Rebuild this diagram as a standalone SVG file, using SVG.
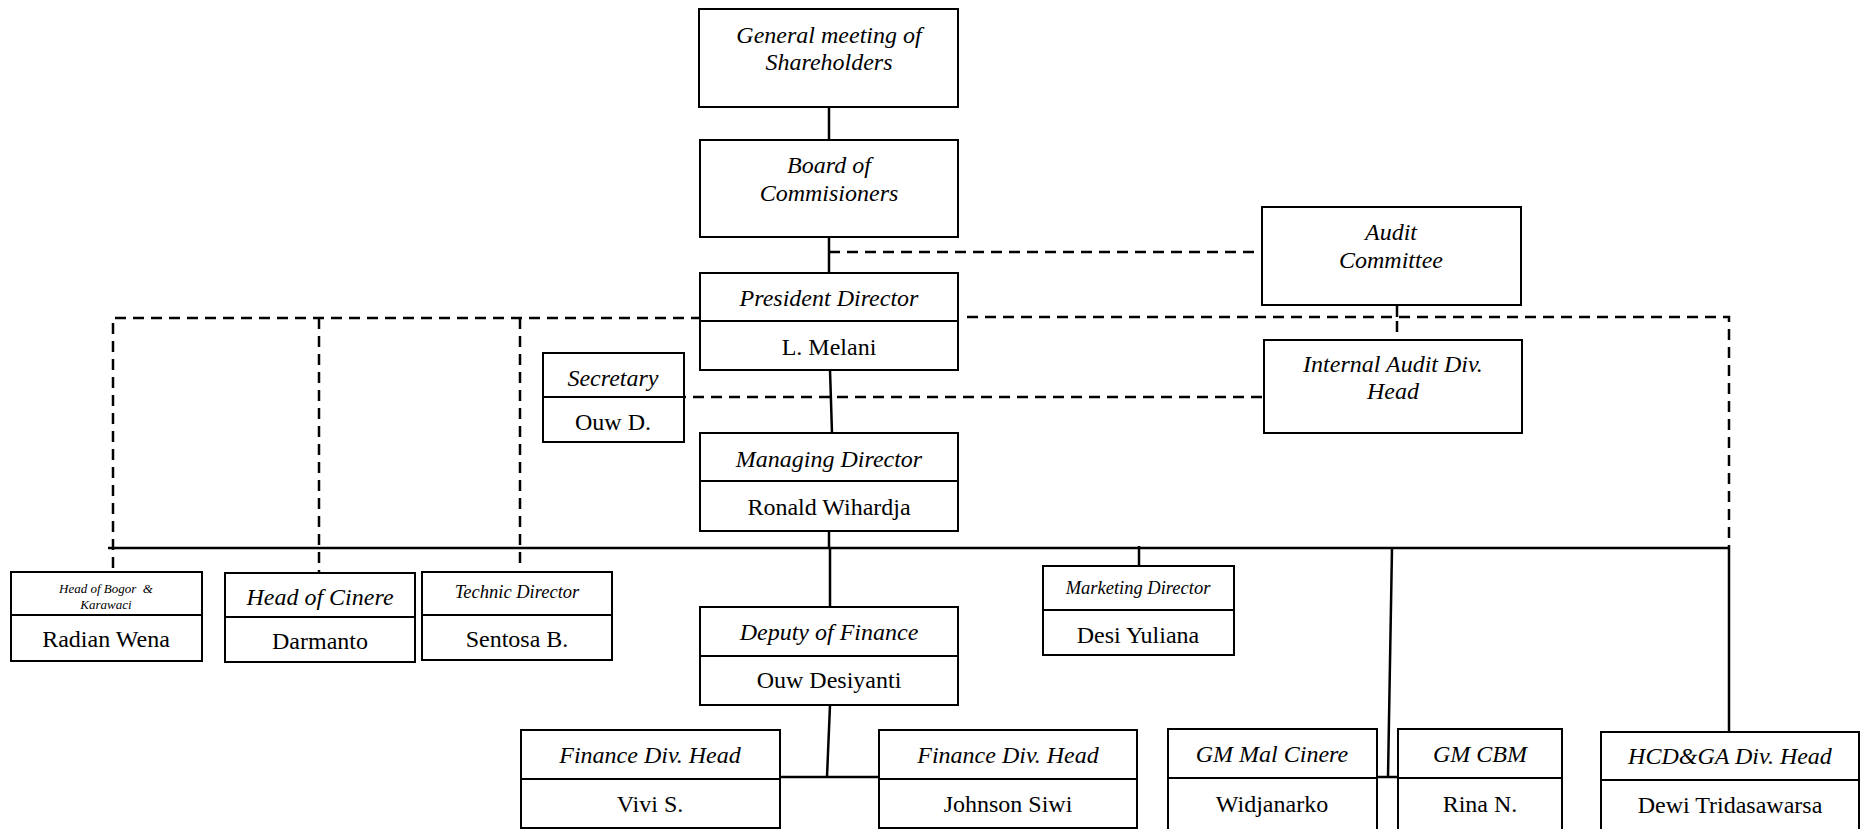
<svg xmlns="http://www.w3.org/2000/svg" width="1865" height="829" viewBox="0 0 1865 829">
<style>
  .box { fill: #fff; stroke: #000; stroke-width: 2; }
  .div { stroke: #000; stroke-width: 2; }
  .t { font-family: "Liberation Serif", "Times New Roman", serif; font-size: 24px; fill: #000; text-anchor: middle; }
  .i { font-style: italic; }
  .s18 { font-size: 18.5px; }
  .s13 { font-size: 13px; }
  .solid { stroke: #000; stroke-width: 2.5; fill: none; }
  .dash { stroke: #000; stroke-width: 2.5; fill: none; stroke-dasharray: 11 7; }
</style>
<rect width="1865" height="829" fill="#fff"/>

<g id="connectors">
  <line class="solid" x1="829" y1="107" x2="829" y2="140"/>
  <line class="solid" x1="829" y1="237" x2="829" y2="273"/>
  <line class="solid" x1="830" y1="370" x2="832" y2="433"/>
  <line class="solid" x1="829" y1="531" x2="829" y2="548"/>
  <line class="solid" x1="108" y1="548" x2="1729" y2="548" stroke-width="3"/>
  <line class="solid" x1="830" y1="548" x2="830" y2="607"/>
  <line class="solid" x1="830" y1="705" x2="827" y2="777"/>
  <line class="solid" x1="780" y1="777" x2="879" y2="777"/>
  <line class="solid" x1="1139" y1="546" x2="1139" y2="568"/>
  <line class="solid" x1="1392" y1="548" x2="1388" y2="777"/>
  <line class="solid" x1="1372" y1="777" x2="1407" y2="777"/>
  <line class="solid" x1="1729" y1="548" x2="1729" y2="732"/>
  <line class="solid" x1="1397" y1="305" x2="1397" y2="317"/>
  <line class="dash" x1="829" y1="252" x2="1262" y2="252"/>
  <path class="dash" d="M113,568 V318 H700"/>
  <line class="dash" x1="319" y1="318" x2="319" y2="573"/>
  <line class="dash" x1="520" y1="318" x2="520" y2="568"/>
  <path class="dash" d="M967,317 H1729 V548"/>
  <line class="dash" x1="1397" y1="321" x2="1397" y2="340"/>
  <line class="dash" x1="675" y1="397" x2="1267" y2="397"/>
</g>

<g id="gms">
  <rect class="box" x="699" y="9" width="259" height="98"/>
  <text class="t i" x="829" y="43">General meeting of</text>
  <text class="t i" x="829" y="70">Shareholders</text>
</g>
<g id="boc">
  <rect class="box" x="700" y="140" width="258" height="97"/>
  <text class="t i" x="829" y="173">Board of</text>
  <text class="t i" x="829" y="201">Commisioners</text>
</g>
<g id="president">
  <rect class="box" x="700" y="273" width="258" height="97"/>
  <line class="div" x1="700" y1="321" x2="958" y2="321"/>
  <text class="t i" x="829" y="306">President Director</text>
  <text class="t" x="829" y="355">L. Melani</text>
</g>
<g id="audit">
  <rect class="box" x="1262" y="207" width="259" height="98"/>
  <text class="t i" x="1391" y="240">Audit</text>
  <text class="t i" x="1391" y="268">Committee</text>
</g>
<g id="internal-audit">
  <rect class="box" x="1264" y="340" width="258" height="93"/>
  <text class="t i" x="1393" y="372">Internal Audit Div.</text>
  <text class="t i" x="1393" y="399">Head</text>
</g>
<g id="secretary">
  <rect class="box" x="543" y="353" width="141" height="89"/>
  <line class="div" x1="543" y1="397" x2="684" y2="397"/>
  <text class="t i" x="613" y="386">Secretary</text>
  <text class="t" x="613" y="430">Ouw D.</text>
</g>
<g id="managing">
  <rect class="box" x="700" y="433" width="258" height="98"/>
  <line class="div" x1="700" y1="481" x2="958" y2="481"/>
  <text class="t i" x="829" y="467">Managing Director</text>
  <text class="t" x="829" y="515">Ronald Wihardja</text>
</g>
<g id="bogor">
  <rect class="box" x="11" y="572" width="191" height="89"/>
  <line class="div" x1="11" y1="615" x2="202" y2="615"/>
  <text class="t i s13" x="106" y="593" xml:space="preserve">Head of Bogor  &amp;</text>
  <text class="t i s13" x="106" y="609">Karawaci</text>
  <text class="t" x="106" y="647">Radian Wena</text>
</g>
<g id="cinere">
  <rect class="box" x="225" y="573" width="190" height="89"/>
  <line class="div" x1="225" y1="617" x2="415" y2="617"/>
  <text class="t i" x="320" y="605">Head of Cinere</text>
  <text class="t" x="320" y="649">Darmanto</text>
</g>
<g id="technic">
  <rect class="box" x="422" y="572" width="190" height="88"/>
  <line class="div" x1="422" y1="615" x2="612" y2="615"/>
  <text class="t i s18" x="517" y="598">Technic Director</text>
  <text class="t" x="517" y="647">Sentosa B.</text>
</g>
<g id="marketing">
  <rect class="box" x="1043" y="566" width="191" height="89"/>
  <line class="div" x1="1043" y1="610" x2="1234" y2="610"/>
  <text class="t i s18" x="1138" y="594">Marketing Director</text>
  <text class="t" x="1138" y="643">Desi Yuliana</text>
</g>
<g id="deputy">
  <rect class="box" x="700" y="607" width="258" height="98"/>
  <line class="div" x1="700" y1="656" x2="958" y2="656"/>
  <text class="t i" x="829" y="640">Deputy of Finance</text>
  <text class="t" x="829" y="688">Ouw Desiyanti</text>
</g>
<g id="finance1">
  <rect class="box" x="521" y="730" width="259" height="98"/>
  <line class="div" x1="521" y1="779" x2="780" y2="779"/>
  <text class="t i" x="650" y="763">Finance Div. Head</text>
  <text class="t" x="650" y="812">Vivi S.</text>
</g>
<g id="finance2">
  <rect class="box" x="879" y="730" width="258" height="98"/>
  <line class="div" x1="879" y1="779" x2="1137" y2="779"/>
  <text class="t i" x="1008" y="763">Finance Div. Head</text>
  <text class="t" x="1008" y="812">Johnson Siwi</text>
</g>
<g id="gm-mal-cinere">
  <rect class="box" x="1168" y="729" width="209" height="104"/>
  <line class="div" x1="1168" y1="778" x2="1377" y2="778"/>
  <text class="t i" x="1272" y="762">GM Mal Cinere</text>
  <text class="t" x="1272" y="812">Widjanarko</text>
</g>
<g id="gm-cbm">
  <rect class="box" x="1398" y="729" width="164" height="104"/>
  <line class="div" x1="1398" y1="778" x2="1562" y2="778"/>
  <text class="t i" x="1480" y="762">GM CBM</text>
  <text class="t" x="1480" y="812">Rina N.</text>
</g>
<g id="hcd">
  <rect class="box" x="1601" y="732" width="258" height="104"/>
  <line class="div" x1="1601" y1="780" x2="1859" y2="780"/>
  <text class="t i" x="1730" y="764">HCD&amp;GA Div. Head</text>
  <text class="t" x="1730" y="813">Dewi Tridasawarsa</text>
</g>
</svg>
